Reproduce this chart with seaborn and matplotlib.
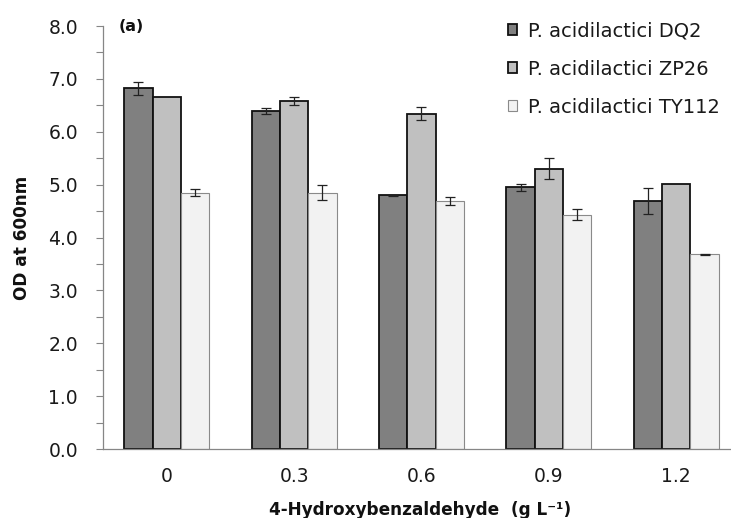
import numpy as np
import pandas as pd
import matplotlib
matplotlib.use("Agg")
import matplotlib.pyplot as plt
from matplotlib.ticker import MultipleLocator, FormatStrFormatter
import seaborn as sns

# 4-hydroxybenzaldehyde concentrations (g/L)
concentrations = ["0", "0.3", "0.6", "0.9", "1.2"]
strains = ["P. acidilactici DQ2", "P. acidilactici ZP26", "P. acidilactici TY112"]

# OD600 means and standard deviations per strain
dq2 = [6.82, 6.39, 4.80, 4.95, 4.69]
dq2_err = [0.13, 0.05, 0.01, 0.07, 0.24]
zp26 = [6.65, 6.58, 6.34, 5.30, 5.01]
zp26_err = [0.0, 0.07, 0.12, 0.20, 0.0]
ty112 = [4.85, 4.85, 4.69, 4.43, 3.68]
ty112_err = [0.07, 0.14, 0.08, 0.10, 0.01]

means = [dq2, zp26, ty112]
errors = [dq2_err, zp26_err, ty112_err]

df = pd.DataFrame({
    "conc": concentrations * 3,
    "strain": [s for s in strains for _ in concentrations],
    "od": dq2 + zp26 + ty112,
})

sns.set_theme(style="white")
plt.rcParams["font.family"] = ["DejaVu Sans"]

fills = ["#808080", "#c0c0c0", "#f2f2f2"]
edges = ["#111111", "#111111", "#8a8a8a"]
edge_w = [1.3, 1.3, 0.8]
text_col = "#1a1a1a"

fig = plt.figure(figsize=(7.31, 5.18), dpi=100)
ax = fig.add_axes([0.1409, 0.1332, 0.8714, 0.8166])

sns.barplot(data=df, x="conc", y="od", hue="strain", order=concentrations,
            hue_order=strains, palette=fills, width=0.667, errorbar=None,
            saturation=1, legend=False, ax=ax)

for cont, ec, lw, errs in zip(ax.containers, edges, edge_w, errors):
    xs, ys, es = [], [], []
    for patch, e in zip(cont.patches, errs):
        patch.set_edgecolor(ec)
        patch.set_linewidth(lw)
        if e > 0:
            xs.append(patch.get_x() + patch.get_width() / 2)
            ys.append(patch.get_height())
            es.append(e)
    ax.errorbar(xs, ys, yerr=es, fmt="none", ecolor="#222222",
                elinewidth=0.9, capsize=3.5, capthick=0.9, zorder=5)

ax.set_ylim(0, 8)
ax.set_xlim(-0.5, 4.5)
ax.yaxis.set_major_locator(MultipleLocator(1.0))
ax.yaxis.set_minor_locator(MultipleLocator(0.5))
ax.yaxis.set_major_formatter(FormatStrFormatter("%.1f"))

for side in ["top", "right"]:
    ax.spines[side].set_visible(False)
for side in ["left", "bottom"]:
    ax.spines[side].set_color("#868686")
    ax.spines[side].set_linewidth(0.9)

ax.tick_params(axis="y", which="both", direction="out", left=True,
               length=5, width=0.8, color="#868686", pad=13,
               labelsize=13.5, labelcolor=text_col)
ax.tick_params(axis="x", bottom=False, length=0, pad=13, labelsize=13.5,
               labelcolor=text_col)

ax.set_ylabel("OD at 600nm", fontsize=12.2, fontweight="bold",
              color="#111111")
ax.yaxis.label.set_va("center")
ax.yaxis.set_label_coords(-0.127, 0.5)
ax.set_xlabel("4-Hydroxybenzaldehyde  (g L\u207b\u00b9)", fontsize=12.2,
              fontweight="bold", color="#111111")
ax.xaxis.label.set_va("center")
ax.xaxis.set_label_coords(0.4977, -0.144)

ax.text(0.024, 1.0, "(a)", transform=ax.transAxes, fontsize=11.5,
        fontweight="bold", va="center", ha="left", color="#111111")

ax.legend(handles=ax.containers[:3], labels=strains, frameon=False,
          loc="upper left", bbox_to_anchor=(0.636, 1.0105), fontsize=14,
          handlelength=0.46, handleheight=0.46, handletextpad=0.55,
          labelspacing=0.98, borderaxespad=0, borderpad=0,
          labelcolor=text_col)

fig.savefig("out.png", dpi=100)
